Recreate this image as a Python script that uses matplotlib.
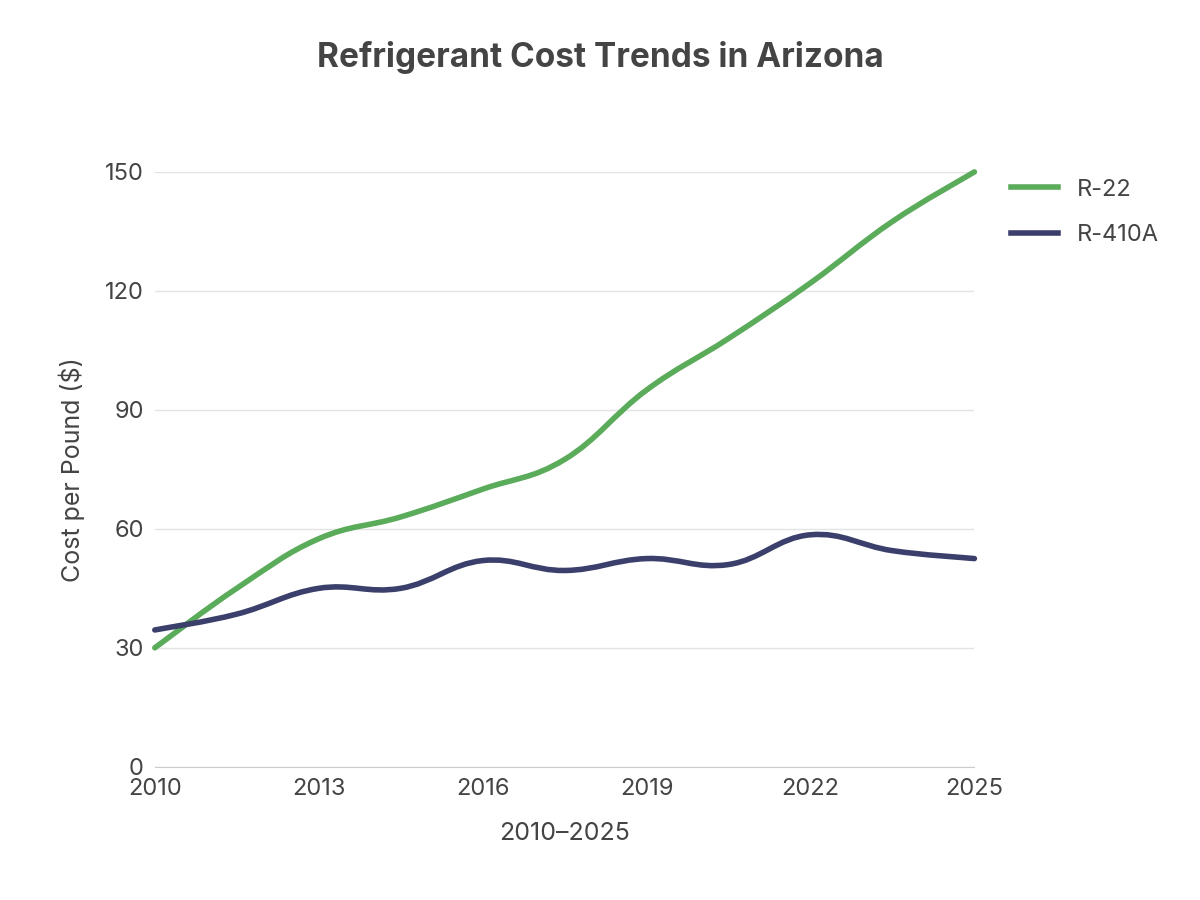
import matplotlib
matplotlib.use("Agg")
import matplotlib.pyplot as plt
import numpy as np
from matplotlib.path import Path
from matplotlib.patches import PathPatch
from matplotlib.lines import Line2D

plt.rcParams["font.family"] = ["Inter", "DejaVu Sans"]

years = [2010, 2011.5, 2013, 2014.5, 2016, 2017.5, 2019, 2020.5, 2022, 2023.5, 2025]
r22 = [30, 45, 57.5, 63, 70, 77.5, 95, 108, 122, 137.5, 150]
r410a = [34.5, 38.5, 45, 45, 52, 49.5, 52.5, 51, 58.5, 54.5, 52.5]
colors = {"R-22": "#5aab5a", "R-410A": "#3b3f6b"}


def smooth_path(x, y, t=0.2):
    # cubic bezier segments with catmull-rom style control points
    x = np.asarray(x, float)
    y = np.asarray(y, float)
    verts = [(x[0], y[0])]
    codes = [Path.MOVETO]
    n = len(x)
    for i in range(n - 1):
        p0 = i - 1 if i > 0 else i
        p3 = i + 2 if i + 2 < n else i + 1
        c1 = (x[i] + (x[i + 1] - x[p0]) * t, y[i] + (y[i + 1] - y[p0]) * t)
        c2 = (x[i + 1] - (x[p3] - x[i]) * t, y[i + 1] - (y[p3] - y[i]) * t)
        verts += [c1, c2, (x[i + 1], y[i + 1])]
        codes += [Path.CURVE4] * 3
    return Path(verts, codes)


fig = plt.figure(figsize=(12, 9), dpi=100)
ax = fig.add_axes([0.129, 0.148, 0.683, 0.661])
for name, vals in (("R-22", r22), ("R-410A", r410a)):
    ax.add_patch(PathPatch(smooth_path(years, vals), fill=False, edgecolor=colors[name],
                           lw=4, capstyle="round", joinstyle="round", zorder=3, clip_on=False))

ax.set_xlim(2010, 2025)
ax.set_ylim(0, 150)
ax.set_xticks([2010, 2013, 2016, 2019, 2022, 2025])
ax.set_yticks([0, 30, 60, 90, 120, 150])
ax.grid(axis="y", color="#e3e3e3", lw=1)
ax.set_axisbelow(True)
for s in ("top", "right", "left"):
    ax.spines[s].set_visible(False)
ax.spines["bottom"].set_color("#cccccc")
ax.tick_params(length=0, labelsize=17, colors="#444444", pad=8)
ax.set_xlabel("2010\u20132025", fontsize=18, color="#444444", labelpad=16)
ax.set_ylabel("Cost per Pound ($)", fontsize=18, color="#444444", labelpad=14)
fig.suptitle("Refrigerant Cost Trends in Arizona", fontsize=24, fontweight="bold",
             color="#444444", y=0.955)

handles = [Line2D([], [], color=colors[n], lw=4) for n in colors]
fig.legend(handles, list(colors), loc="upper left", bbox_to_anchor=(0.825, 0.825),
           frameon=False, fontsize=17, labelcolor="#444444", handlelength=2.0,
           labelspacing=1.0)

fig.savefig("out.png", dpi=100)
